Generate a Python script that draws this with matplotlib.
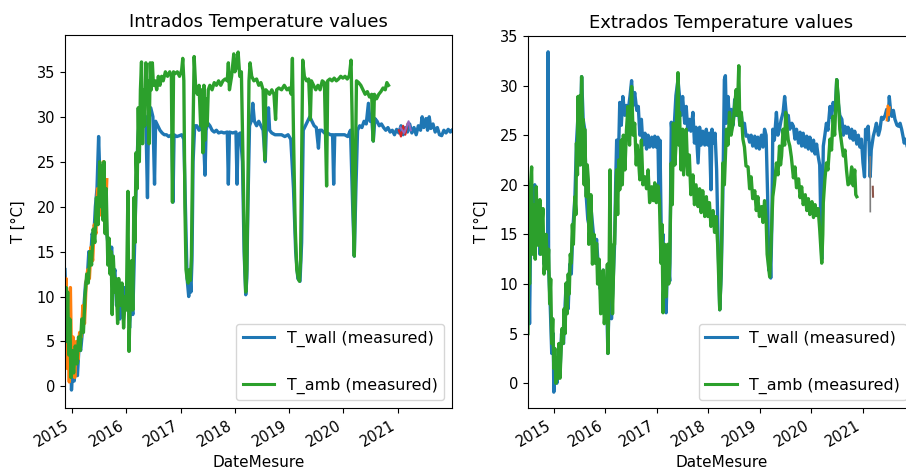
import matplotlib
matplotlib.use("Agg")
import matplotlib.pyplot as plt
import matplotlib.dates as mdates
from matplotlib.lines import Line2D
import numpy as np
import pandas as pd

# ---- Intrados (left panel), dates as decimal years ----
intra_wall_yr = [
    2014.87, 2014.89, 2014.91, 2014.93, 2014.95, 2014.97, 2014.99, 2015.01, 2015.04, 2015.07,
    2015.10, 2015.13, 2015.16, 2015.19, 2015.22, 2015.25, 2015.28, 2015.31, 2015.34, 2015.37,
    2015.40, 2015.43, 2015.46, 2015.49, 2015.52, 2015.55, 2015.58, 2015.61, 2015.64, 2015.67,
    2015.70, 2015.73, 2015.76, 2015.79, 2015.82, 2015.85, 2015.88, 2015.91, 2015.94, 2015.97,
    2016.00, 2016.03, 2016.06, 2016.09, 2016.12, 2016.15, 2016.18, 2016.21, 2016.24, 2016.27,
    2016.30, 2016.33, 2016.36, 2016.39, 2016.41, 2016.45, 2016.49, 2016.52, 2016.54, 2016.58,
    2016.62, 2016.66, 2016.70, 2016.74, 2016.78, 2016.84, 2016.86, 2016.88, 2016.93, 2016.98,
    2017.02, 2017.06, 2017.09, 2017.12, 2017.15, 2017.17, 2017.19, 2017.21, 2017.23, 2017.26,
    2017.30, 2017.34, 2017.38, 2017.42, 2017.45, 2017.47, 2017.50, 2017.54, 2017.58, 2017.62,
    2017.66, 2017.70, 2017.75, 2017.80, 2017.86, 2017.88, 2017.90, 2017.96, 2018.02, 2018.04,
    2018.06, 2018.10, 2018.14, 2018.17, 2018.20, 2018.22, 2018.24, 2018.27, 2018.30, 2018.33,
    2018.36, 2018.40, 2018.44, 2018.48, 2018.52, 2018.56, 2018.58, 2018.62, 2018.64, 2018.68,
    2018.74, 2018.80, 2018.86, 2018.92, 2018.98, 2019.03, 2019.08, 2019.12, 2019.16, 2019.20,
    2019.23, 2019.26, 2019.30, 2019.34, 2019.38, 2019.42, 2019.46, 2019.50, 2019.54, 2019.56,
    2019.60, 2019.65, 2019.70, 2019.76, 2019.80, 2019.82, 2019.84, 2019.90, 2019.96, 2020.02,
    2020.08, 2020.13, 2020.17, 2020.20, 2020.23, 2020.26, 2020.30, 2020.34, 2020.38, 2020.42,
    2020.46, 2020.49, 2020.52, 2020.55, 2020.58, 2020.62, 2020.66, 2020.70, 2020.74, 2020.78,
    2020.82, 2020.86, 2020.90, 2020.94, 2020.98, 2021.02, 2021.06, 2021.10, 2021.14, 2021.18,
    2021.22, 2021.26, 2021.30, 2021.34, 2021.38, 2021.42, 2021.45, 2021.48, 2021.52, 2021.55,
    2021.58, 2021.61, 2021.65, 2021.69, 2021.73, 2021.77, 2021.81, 2021.85, 2021.89, 2021.93,
    2021.97, 2022.00,
]
intra_wall = [
    13.0, 9.0, 4.0, 6.5, 3.0, 5.0, -0.4, 1.5, 0.6, 2.5,
    1.2, 4.5, 4.0, 6.0, 9.0, 11.5, 12.0, 15.0, 14.0, 17.0,
    16.5, 20.0, 22.0, 27.8, 22.0, 24.0, 20.5, 23.0, 17.0, 15.5,
    14.0, 15.5, 12.0, 13.0, 9.0, 11.5, 7.5, 10.0, 8.0, 11.0,
    9.0, 10.5, 6.5, 10.0, 8.0, 15.0, 22.0, 27.0, 30.0, 29.0,
    30.5, 29.5, 30.0, 21.0, 30.5, 31.0, 30.0, 22.5, 29.5, 29.0,
    28.5, 28.2, 28.0, 28.0, 27.8, 28.0, 20.5, 28.0, 27.8, 27.9,
    28.0, 27.5, 20.0, 12.0, 10.0, 12.5, 10.5, 14.0, 25.0, 29.0,
    29.0, 28.5, 29.0, 28.0, 23.5, 28.5, 29.3, 29.0, 28.5, 28.3,
    28.5, 28.2, 28.3, 28.2, 28.3, 22.5, 28.3, 28.2, 28.3, 22.5,
    28.0, 28.2, 25.0, 15.0, 10.2, 12.0, 20.0, 29.0, 29.5, 31.5,
    29.5, 29.0, 29.5, 29.0, 28.5, 25.0, 28.8, 31.0, 28.5, 28.2,
    28.0, 28.0, 28.0, 27.8, 28.0, 27.5, 22.0, 15.0, 12.0, 11.7,
    16.0, 28.5, 29.0, 29.5, 30.0, 29.5, 29.0, 28.8, 26.5, 28.5,
    28.5, 28.2, 28.2, 28.0, 28.0, 22.5, 28.0, 28.0, 28.0, 28.0,
    27.8, 28.5, 20.0, 14.5, 22.0, 28.5, 29.0, 28.8, 29.5, 29.2,
    31.5, 29.5, 30.0, 27.3, 29.8, 29.5, 29.0, 29.2, 28.8, 28.5,
    28.8, 28.3, 28.5, 28.0, 28.6, 28.2, 29.0, 28.0, 28.8, 28.3,
    29.2, 28.2, 28.8, 28.0, 29.0, 28.5, 30.0, 28.8, 29.8, 28.5,
    30.0, 28.7, 29.2, 28.3, 28.8, 28.0, 27.9, 28.5, 28.2, 28.6,
    28.3, 28.5,
]

intra_amb_yr = [
    2014.87, 2014.89, 2014.90, 2014.92, 2014.94, 2014.96, 2014.98, 2015.00, 2015.03, 2015.06,
    2015.09, 2015.12, 2015.15, 2015.18, 2015.21, 2015.24, 2015.27, 2015.30, 2015.33, 2015.36,
    2015.39, 2015.42, 2015.45, 2015.48, 2015.51, 2015.53, 2015.55, 2015.57, 2015.59, 2015.61,
    2015.63, 2015.66, 2015.68, 2015.70, 2015.72, 2015.74, 2015.76, 2015.79, 2015.81, 2015.84,
    2015.86, 2015.89, 2015.92, 2015.95, 2015.98, 2016.00, 2016.03, 2016.05, 2016.07, 2016.10,
    2016.12, 2016.14, 2016.16, 2016.18, 2016.20, 2016.22, 2016.24, 2016.26, 2016.28, 2016.30,
    2016.32, 2016.34, 2016.36, 2016.38, 2016.40, 2016.42, 2016.44, 2016.46, 2016.48, 2016.50,
    2016.53, 2016.56, 2016.59, 2016.62, 2016.65, 2016.68, 2016.72, 2016.76, 2016.80, 2016.83,
    2016.85, 2016.87, 2016.90, 2016.94, 2016.98, 2017.02, 2017.04, 2017.06, 2017.08, 2017.10,
    2017.12, 2017.14, 2017.16, 2017.18, 2017.20, 2017.22, 2017.25, 2017.28, 2017.31, 2017.34,
    2017.37, 2017.39, 2017.41, 2017.43, 2017.45, 2017.47, 2017.49, 2017.51, 2017.54, 2017.58,
    2017.62, 2017.66, 2017.70, 2017.74, 2017.78, 2017.82, 2017.86, 2017.88, 2017.90, 2017.94,
    2017.98, 2018.00, 2018.03, 2018.06, 2018.09, 2018.12, 2018.15, 2018.18, 2018.20, 2018.22,
    2018.24, 2018.26, 2018.28, 2018.31, 2018.35, 2018.40, 2018.44, 2018.48, 2018.52, 2018.55,
    2018.57, 2018.60, 2018.64, 2018.68, 2018.72, 2018.75, 2018.77, 2018.81, 2018.86, 2018.91,
    2018.96, 2019.00, 2019.04, 2019.06, 2019.08, 2019.11, 2019.14, 2019.17, 2019.19, 2019.21,
    2019.23, 2019.25, 2019.28, 2019.32, 2019.36, 2019.39, 2019.41, 2019.45, 2019.49, 2019.53,
    2019.57, 2019.61, 2019.65, 2019.69, 2019.71, 2019.75, 2019.79, 2019.83, 2019.87, 2019.91,
    2019.95, 2019.99, 2020.03, 2020.07, 2020.11, 2020.14, 2020.16, 2020.18, 2020.20, 2020.22,
    2020.24, 2020.28, 2020.32, 2020.36, 2020.40, 2020.44, 2020.48, 2020.52, 2020.55, 2020.57,
    2020.61, 2020.65, 2020.69, 2020.73, 2020.77, 2020.80, 2020.83,
]
intra_amb = [
    8.0, 11.0, 5.0, 10.5, 3.5, 7.5, 1.0, 4.0, 1.5, 4.5,
    2.5, 5.5, 4.0, 7.5, 6.0, 10.0, 12.5, 11.5, 15.0, 13.5,
    17.5, 16.0, 21.0, 18.0, 25.0, 20.0, 24.5, 18.5, 25.0, 17.0,
    22.0, 13.5, 16.5, 12.5, 15.0, 8.0, 14.5, 10.5, 12.0, 7.0,
    12.0, 9.0, 11.5, 6.5, 10.0, 8.5, 21.7, 3.9, 9.0, 14.0,
    8.5, 21.0, 16.0, 26.0, 22.0, 31.0, 25.0, 33.0, 36.1, 27.0,
    33.0, 29.0, 36.0, 32.0, 34.0, 27.0, 36.0, 33.0, 36.0, 33.5,
    34.0, 33.0, 34.5, 33.5, 34.5, 34.0, 35.0, 34.5, 35.0, 34.5,
    20.5, 35.0, 34.8, 35.0, 34.5, 35.2, 36.5, 34.0, 20.0, 13.0,
    12.0, 11.5, 13.0, 11.8, 14.5, 25.0, 36.7, 33.0, 32.5, 33.5,
    29.0, 33.0, 26.0, 33.5, 27.4, 32.0, 29.0, 33.0, 33.5, 33.0,
    33.8, 33.5, 34.0, 33.5, 34.0, 34.2, 34.0, 36.0, 33.0, 34.5,
    37.0, 35.0, 35.5, 37.2, 34.5, 35.0, 25.0, 14.0, 10.5, 13.0,
    22.0, 34.0, 36.0, 34.5, 34.0, 34.2, 33.5, 33.8, 33.0, 25.2,
    33.0, 32.8, 32.5, 33.0, 32.5, 29.7, 33.0, 33.2, 33.0, 33.5,
    33.0, 33.2, 32.5, 36.5, 28.0, 18.0, 13.0, 12.0, 11.7, 14.0,
    25.0, 36.3, 34.5, 34.0, 34.2, 29.7, 34.0, 33.5, 33.0, 33.5,
    33.0, 34.0, 33.8, 22.3, 34.0, 34.2, 34.0, 34.3, 34.0, 34.2,
    34.5, 34.3, 34.5, 34.2, 34.6, 36.3, 30.0, 20.0, 14.5, 24.0,
    34.0, 33.8, 33.5, 33.0, 32.5, 32.8, 32.2, 32.5, 27.3, 32.5,
    32.0, 32.5, 32.8, 33.2, 33.0, 33.8, 33.5,
]

intra_extra_yr = [
    2014.87, 2014.89, 2014.91, 2014.93, 2014.95, 2014.97, 2014.99, 2015.02, 2015.05, 2015.08,
    2015.11, 2015.14, 2015.17, 2015.20, 2015.23, 2015.26, 2015.29, 2015.32, 2015.35, 2015.38,
    2015.41, 2015.44, 2015.47, 2015.50, 2015.52, 2015.55, 2015.58, 2015.61, 2015.64,
]
intra_extra = [
    3.0, 12.0, 2.0, 9.0, 0.5, 11.0, 3.0, 5.5, 1.0, 5.0,
    3.0, 6.0, 5.5, 9.0, 7.0, 11.5, 13.0, 12.0, 15.5, 14.0,
    18.0, 17.0, 22.0, 19.0, 24.0, 19.5, 25.0, 18.0, 23.0,
]
intra_red_yr = [2021.02, 2021.06, 2021.10, 2021.14, 2021.18]
intra_red = [28.5, 27.8, 29.0, 28.0, 29.2]
intra_purple_yr = [2021.05, 2021.12, 2021.20, 2021.24]
intra_purple = [28.8, 28.2, 29.5, 28.5]

# ---- Extrados (right panel) ----
extra_wall_yr = [
    2014.50, 2014.53, 2014.56, 2014.60, 2014.63, 2014.66, 2014.70, 2014.73, 2014.77, 2014.81,
    2014.85, 2014.88, 2014.89, 2014.90, 2014.93, 2014.96, 2014.99, 2015.00, 2015.03, 2015.06,
    2015.09, 2015.12, 2015.15, 2015.19, 2015.22, 2015.24, 2015.28, 2015.31, 2015.34, 2015.37,
    2015.41, 2015.44, 2015.47, 2015.50, 2015.54, 2015.57, 2015.60, 2015.63, 2015.66, 2015.70,
    2015.73, 2015.77, 2015.80, 2015.83, 2015.86, 2015.90, 2015.93, 2015.96, 2016.00, 2016.02,
    2016.05, 2016.07, 2016.09, 2016.12, 2016.15, 2016.18, 2016.20, 2016.22, 2016.25, 2016.28,
    2016.31, 2016.34, 2016.38, 2016.41, 2016.44, 2016.48, 2016.51, 2016.54, 2016.57, 2016.61,
    2016.64, 2016.67, 2016.70, 2016.73, 2016.77, 2016.80, 2016.83, 2016.86, 2016.90, 2016.93,
    2016.96, 2016.99, 2017.02, 2017.04, 2017.06, 2017.09, 2017.12, 2017.15, 2017.18, 2017.21,
    2017.25, 2017.28, 2017.31, 2017.34, 2017.37, 2017.41, 2017.44, 2017.47, 2017.50, 2017.54,
    2017.57, 2017.60, 2017.63, 2017.66, 2017.70, 2017.73, 2017.76, 2017.80, 2017.83, 2017.86,
    2017.89, 2017.93, 2017.96, 2017.99, 2018.02, 2018.05, 2018.07, 2018.10, 2018.13, 2018.16,
    2018.19, 2018.22, 2018.25, 2018.28, 2018.31, 2018.33, 2018.35, 2018.38, 2018.41, 2018.44,
    2018.48, 2018.51, 2018.54, 2018.57, 2018.61, 2018.64, 2018.67, 2018.70, 2018.73, 2018.77,
    2018.80, 2018.83, 2018.86, 2018.90, 2018.93, 2018.96, 2018.99, 2019.03, 2019.06, 2019.09,
    2019.12, 2019.15, 2019.17, 2019.19, 2019.21, 2019.23, 2019.25, 2019.28, 2019.32, 2019.35,
    2019.38, 2019.41, 2019.45, 2019.48, 2019.52, 2019.55, 2019.58, 2019.62, 2019.65, 2019.68,
    2019.71, 2019.75, 2019.78, 2019.81, 2019.84, 2019.88, 2019.91, 2019.94, 2019.97, 2020.01,
    2020.04, 2020.07, 2020.10, 2020.13, 2020.16, 2020.18, 2020.20, 2020.22, 2020.23, 2020.26,
    2020.29, 2020.32, 2020.36, 2020.39, 2020.42, 2020.46, 2020.49, 2020.52, 2020.55, 2020.59,
    2020.62, 2020.65, 2020.68, 2020.71, 2020.75, 2020.78, 2020.81, 2020.84, 2020.88, 2020.91,
    2020.94, 2020.97, 2021.00, 2021.03, 2021.05, 2021.08, 2021.10, 2021.12, 2021.14, 2021.16,
    2021.20, 2021.23, 2021.26, 2021.30, 2021.33, 2021.36, 2021.39, 2021.43, 2021.46, 2021.49,
    2021.51, 2021.54, 2021.56, 2021.59, 2021.62, 2021.66, 2021.69, 2021.72, 2021.75, 2021.78,
    2021.80, 2021.83, 2021.86, 2021.90, 2021.94, 2021.98,
]
extra_wall = [
    16.0, 6.0, 19.0, 14.0, 20.0, 15.0, 18.0, 13.0, 17.0, 12.0,
    14.5, 12.0, 33.4, 11.5, 8.0, 3.0, 5.0, -0.9, 2.0, 0.0,
    3.5, 1.0, 5.0, 4.0, 8.0, 10.0, 7.5, 12.0, 11.0, 15.5,
    18.8, 24.2, 27.0, 22.0, 30.9, 26.6, 25.6, 18.8, 16.5, 15.5,
    17.2, 15.0, 13.0, 14.5, 12.0, 9.5, 10.0, 11.4, 8.7, 9.5,
    3.0, 8.0, 10.5, 6.5, 10.0, 14.0, 20.0, 24.5, 21.5, 28.3,
    26.0, 28.9, 27.0, 28.0, 27.3, 29.0, 30.5, 28.0, 29.3, 27.5,
    27.9, 25.0, 26.6, 24.0, 25.2, 23.6, 25.0, 23.8, 24.8, 23.8,
    24.9, 23.8, 24.8, 19.0, 24.5, 13.5, 15.0, 9.0, 7.1, 12.8,
    10.3, 26.3, 24.0, 26.2, 29.0, 30.6, 28.9, 27.0, 28.9, 26.2,
    27.9, 25.5, 26.6, 25.4, 27.3, 24.2, 25.8, 22.2, 25.8, 24.0,
    25.4, 24.0, 25.6, 24.0, 25.2, 19.5, 25.6, 24.2, 25.2, 21.5,
    14.0, 7.4, 11.0, 18.8, 30.6, 31.0, 26.2, 28.9, 26.5, 27.6,
    26.0, 28.6, 27.0, 28.3, 26.0, 27.0, 25.6, 26.2, 24.9, 25.0,
    24.3, 25.0, 23.9, 24.9, 23.7, 24.8, 23.6, 25.0, 23.8, 25.6,
    25.0, 18.8, 11.4, 14.0, 10.6, 15.5, 25.6, 24.5, 27.3, 25.0,
    25.6, 26.5, 27.3, 28.9, 26.6, 27.0, 25.6, 26.2, 25.9, 24.6,
    25.6, 24.2, 25.3, 23.9, 25.2, 23.8, 24.9, 23.6, 24.8, 23.4,
    24.5, 23.1, 24.1, 22.9, 22.0, 16.8, 12.5, 20.0, 23.9, 25.0,
    26.2, 25.5, 27.9, 26.8, 28.3, 27.5, 30.6, 28.3, 27.0, 26.6,
    25.0, 25.9, 25.2, 25.8, 24.7, 25.6, 24.5, 25.4, 24.1, 25.0,
    23.8, 24.6, 22.2, 20.8, 25.6, 24.6, 25.9, 24.0, 20.8, 23.5,
    24.9, 25.5, 26.2, 25.0, 25.6, 26.8, 26.6, 27.0, 27.6, 26.5,
    28.9, 27.2, 26.9, 27.5, 26.6, 26.0, 25.9, 26.2, 25.6, 24.8,
    24.2, 24.6, 23.8, 24.0, 23.5, 24.2,
]

extra_amb_yr = [
    2014.50, 2014.51, 2014.53, 2014.55, 2014.57, 2014.59, 2014.60, 2014.62, 2014.64, 2014.66,
    2014.68, 2014.70, 2014.72, 2014.73, 2014.75, 2014.77, 2014.79, 2014.81, 2014.83, 2014.85,
    2014.88, 2014.90, 2014.92, 2014.94, 2014.96, 2014.98, 2015.00, 2015.02, 2015.04, 2015.06,
    2015.08, 2015.10, 2015.12, 2015.14, 2015.16, 2015.18, 2015.20, 2015.22, 2015.24, 2015.26,
    2015.28, 2015.30, 2015.32, 2015.34, 2015.36, 2015.38, 2015.41, 2015.43, 2015.44, 2015.46,
    2015.47, 2015.49, 2015.51, 2015.52, 2015.54, 2015.56, 2015.57, 2015.59, 2015.60, 2015.62,
    2015.63, 2015.65, 2015.67, 2015.68, 2015.70, 2015.72, 2015.73, 2015.75, 2015.78, 2015.80,
    2015.83, 2015.85, 2015.88, 2015.91, 2015.93, 2015.96, 2015.98, 2016.02, 2016.04, 2016.05,
    2016.07, 2016.09, 2016.10, 2016.12, 2016.14, 2016.15, 2016.17, 2016.18, 2016.20, 2016.22,
    2016.24, 2016.26, 2016.28, 2016.31, 2016.33, 2016.35, 2016.38, 2016.41, 2016.44, 2016.47,
    2016.51, 2016.54, 2016.57, 2016.60, 2016.62, 2016.64, 2016.67, 2016.70, 2016.73, 2016.77,
    2016.80, 2016.83, 2016.86, 2016.90, 2016.93, 2016.96, 2016.99, 2017.02, 2017.05, 2017.08,
    2017.10, 2017.12, 2017.14, 2017.15, 2017.18, 2017.21, 2017.23, 2017.25, 2017.28, 2017.30,
    2017.32, 2017.35, 2017.37, 2017.39, 2017.41, 2017.43, 2017.44, 2017.47, 2017.50, 2017.52,
    2017.54, 2017.57, 2017.60, 2017.63, 2017.66, 2017.70, 2017.73, 2017.76, 2017.80, 2017.83,
    2017.86, 2017.89, 2017.93, 2017.96, 2017.99, 2018.02, 2018.05, 2018.09, 2018.12, 2018.15,
    2018.18, 2018.22, 2018.24, 2018.25, 2018.28, 2018.31, 2018.35, 2018.38, 2018.41, 2018.44,
    2018.48, 2018.51, 2018.54, 2018.56, 2018.59, 2018.61, 2018.64, 2018.67, 2018.70, 2018.73,
    2018.77, 2018.80, 2018.83, 2018.86, 2018.90, 2018.93, 2018.96, 2018.99, 2019.03, 2019.06,
    2019.09, 2019.12, 2019.14, 2019.16, 2019.19, 2019.21, 2019.22, 2019.25, 2019.28, 2019.32,
    2019.35, 2019.38, 2019.40, 2019.42, 2019.45, 2019.48, 2019.50, 2019.52, 2019.55, 2019.58,
    2019.61, 2019.65, 2019.68, 2019.71, 2019.75, 2019.78, 2019.81, 2019.84, 2019.88, 2019.91,
    2019.94, 2019.97, 2020.01, 2020.04, 2020.07, 2020.10, 2020.13, 2020.16, 2020.20, 2020.22,
    2020.23, 2020.26, 2020.29, 2020.32, 2020.36, 2020.39, 2020.42, 2020.45, 2020.49, 2020.52,
    2020.55, 2020.59, 2020.62, 2020.65, 2020.68, 2020.71, 2020.75, 2020.78, 2020.81, 2020.84,
    2020.86, 2020.88,
]
extra_amb = [
    5.0, 16.8, 10.0, 20.0, 21.8, 13.0, 14.2, 18.0, 12.5, 19.8,
    15.0, 13.9, 17.0, 18.5, 13.0, 16.0, 17.6, 11.0, 12.2, 15.0,
    11.5, 13.5, 8.0, 10.5, 4.0, 6.5, 1.5, 3.5, 0.0, 2.5,
    0.5, 4.0, 0.5, 3.0, 5.5, 4.0, 7.5, 5.0, 10.1, 7.0,
    11.0, 9.0, 13.0, 12.1, 16.0, 14.0, 18.8, 17.0, 24.2, 21.0,
    28.9, 23.0, 29.0, 22.0, 30.9, 25.0, 26.6, 20.0, 25.6, 21.0,
    18.8, 22.0, 20.5, 14.0, 15.5, 19.0, 17.2, 12.0, 15.0, 12.1,
    14.1, 10.0, 12.5, 7.0, 7.1, 11.4, 6.0, 8.7, 12.0, 3.0,
    9.0, 21.5, 15.0, 12.1, 7.0, 9.0, 14.0, 14.0, 18.0, 21.5,
    17.0, 22.5, 19.5, 24.5, 20.0, 25.0, 21.5, 25.5, 27.9, 24.0,
    29.9, 25.0, 26.2, 22.0, 24.0, 22.9, 20.5, 24.5, 20.0, 20.8,
    19.6, 21.5, 18.2, 19.8, 18.4, 20.2, 18.2, 19.9, 18.4, 12.1,
    16.0, 7.1, 11.0, 14.0, 8.7, 14.0, 10.0, 12.1, 22.2, 18.0,
    26.2, 22.0, 23.9, 28.0, 31.3, 24.0, 27.3, 21.5, 25.6, 21.0,
    22.9, 25.6, 21.0, 23.0, 19.0, 21.0, 18.0, 20.0, 17.8, 19.6,
    17.2, 19.4, 16.8, 18.8, 16.8, 18.2, 15.8, 17.4, 15.2, 16.8,
    14.0, 7.4, 10.0, 12.0, 22.2, 20.0, 25.6, 24.0, 27.3, 25.0,
    26.2, 28.0, 29.6, 27.0, 32.0, 26.0, 27.3, 24.6, 23.8, 21.9,
    21.8, 19.6, 20.8, 18.6, 19.4, 17.4, 18.8, 16.8, 17.8, 16.2,
    18.4, 16.6, 13.0, 12.1, 10.7, 13.0, 14.8, 18.8, 20.0, 22.2,
    21.0, 23.9, 22.0, 22.9, 25.6, 24.0, 27.3, 26.0, 24.5, 23.9,
    22.8, 20.7, 21.8, 19.7, 20.6, 18.7, 19.8, 18.0, 19.0, 17.4,
    18.6, 17.0, 18.3, 16.7, 18.0, 16.9, 17.6, 15.5, 12.1, 15.0,
    18.2, 20.5, 22.2, 21.5, 24.6, 23.5, 26.9, 25.0, 30.6, 28.9,
    25.6, 24.0, 22.9, 23.5, 21.5, 20.0, 20.2, 21.8, 19.9, 21.5,
    19.0, 18.8,
]

extra_orange_yr = [2021.46, 2021.48, 2021.50, 2021.52]
extra_orange = [26.5, 28.0, 27.0, 27.8]
extra_gray_yr = [2021.140, 2021.142]
extra_gray = [22.8, 17.3]
extra_brown_yr = [2021.19, 2021.195]
extra_brown = [19.8, 18.8]


def to_dates(years):
    yrs = np.asarray(years, dtype=float)
    return pd.Timestamp("2015-01-01") + pd.to_timedelta((yrs - 2015.0) * 365.25, unit="D")


def style_axis(ax, title):
    ax.set_title(title, fontsize=13)
    ax.set_ylabel("T [°C]", fontsize=10.5, labelpad=8)
    ax.set_xlabel("DateMesure", fontsize=11)
    ax.xaxis.set_major_locator(mdates.YearLocator())
    ax.xaxis.set_major_formatter(mdates.DateFormatter("%Y"))
    ax.tick_params(axis="both", labelsize=10.5)
    for lab in ax.get_xticklabels():
        lab.set_rotation(30)
        lab.set_ha("right")
    blank = Line2D([], [], color="none", label=" ")
    h_wall = Line2D([], [], color="C0", lw=2.2, label="T_wall (measured)")
    h_amb = Line2D([], [], color="C2", lw=2.2, label="T_amb (measured)")
    ax.legend(handles=[h_wall, blank, h_amb], loc="lower right", fontsize=11.4)


fig = plt.figure(figsize=(9.06, 4.72), dpi=100)
ax1 = fig.add_axes([0.0717, 0.1356, 0.4272, 0.7903])
ax2 = fig.add_axes([0.5828, 0.1356, 0.4266, 0.7882])

lw = 2.4
ax1.plot(to_dates(intra_wall_yr), intra_wall, color="C0", lw=lw)
ax1.plot(to_dates(intra_extra_yr), intra_extra, color="C1", lw=lw)
ax1.plot(to_dates(intra_amb_yr), intra_amb, color="C2", lw=lw)
ax1.plot(to_dates(intra_red_yr), intra_red, color="C3", lw=1.5)
ax1.plot(to_dates(intra_purple_yr), intra_purple, color="C4", lw=1.5)
ax1.set_xlim(to_dates([2014.87])[0], to_dates([2022.0])[0])
ax1.set_ylim(-2.4, 39.1)
style_axis(ax1, "Intrados Temperature values")

ax2.plot(to_dates(extra_wall_yr), extra_wall, color="C0", lw=lw)
ax2.plot(to_dates(extra_amb_yr), extra_amb, color="C2", lw=lw)
ax2.plot(to_dates(extra_orange_yr), extra_orange, color="C1", lw=1.5)
ax2.plot(to_dates(extra_gray_yr), extra_gray, color="C7", lw=1.2)
ax2.plot(to_dates(extra_brown_yr), extra_brown, color="C5", lw=1.5)
ax2.set_xlim(to_dates([2014.5])[0], to_dates([2022.0])[0])
ax2.set_ylim(-2.5, 35.0)
style_axis(ax2, "Extrados Temperature values")

fig.savefig("out.png", dpi=100)
